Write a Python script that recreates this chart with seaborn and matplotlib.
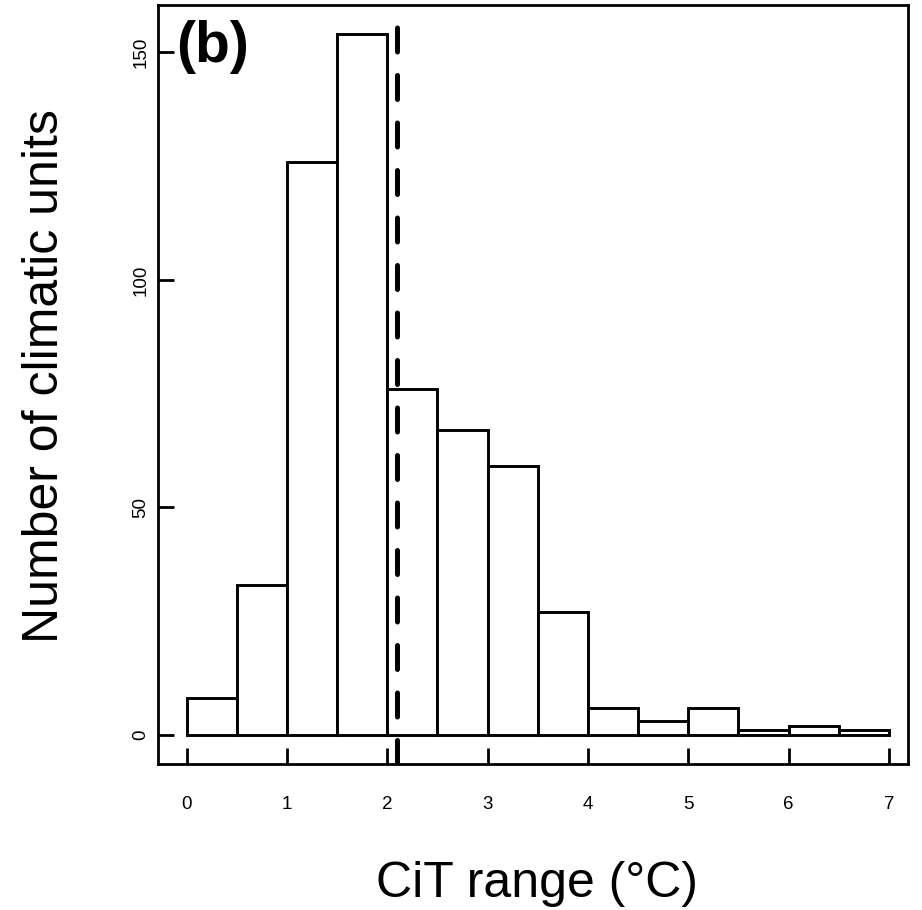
import numpy as np
import pandas as pd
import matplotlib
matplotlib.use("Agg")
import matplotlib.pyplot as plt
import seaborn as sns

# Data (bin width 0.5 °C)
bin_edges = [0, 0.5, 1, 1.5, 2, 2.5, 3, 3.5, 4, 4.5, 5, 5.5, 6, 6.5, 7]
counts = [8, 33, 126, 154, 76, 67, 59, 27, 6, 3, 6, 1, 2, 1]
mean_value = 2.1
x_ticks = [0, 1, 2, 3, 4, 5, 6, 7]
y_ticks = [0, 50, 100, 150]
panel_label = "(b)"
x_label = "CiT range (°C)"
y_label = "Number of climatic units"

sns.set_style("white")
plt.rcParams['font.family'] = ['Liberation Sans', 'DejaVu Sans']
plt.rcParams['text.color'] = 'black'
plt.rcParams['xtick.color'] = 'black'
plt.rcParams['ytick.color'] = 'black'

centers = [(bin_edges[i] + bin_edges[i + 1]) / 2 for i in range(len(counts))]
df = pd.DataFrame({"x": centers, "w": counts})

fig = plt.figure(figsize=(9.22, 9.10), dpi=100)
ax = fig.add_axes([158 / 922, 1 - 764 / 910, 750 / 922, 759 / 910])

sns.histplot(data=df, x="x", weights="w", bins=bin_edges, ax=ax,
             color="white", edgecolor="black", linewidth=2.1, alpha=1)

ax.axvline(mean_value, color="black", linewidth=3.6, dashes=(4.8, 4.7),
           dash_capstyle="round")

ax.set_xlim(-0.286, 7.19)
ax.set_ylim(-6.4, 160.4)
ax.set_xticks(x_ticks)
ax.set_yticks(y_ticks)
ax.set_xticklabels([str(t) for t in x_ticks], fontsize=13.5)
ax.set_yticklabels([str(t) for t in y_ticks], fontsize=13.5, rotation=90,
                   va="center")
ax.tick_params(axis="x", direction="in", length=11.5, width=2, pad=23,
               bottom=True)
ax.tick_params(axis="y", direction="in", length=11.5, width=2, pad=6,
               left=True)
for s in ax.spines.values():
    s.set_visible(True)
    s.set_color("black")
    s.set_linewidth(2)

ax.set_xlabel("")
ax.set_ylabel("")
fig.text(537 / 922, 1 - 884 / 910, x_label, fontsize=36, ha="center",
         va="center", color="black")
fig.text(45 / 922, 1 - 376 / 910, y_label, fontsize=36, ha="center",
         va="center", rotation=90, color="black")
ax.text(176 / 922, 1 - 47 / 910, panel_label, transform=fig.transFigure,
        fontsize=41, fontweight="bold", ha="left", va="center",
        color="black")

fig.savefig("out.png", dpi=100)
